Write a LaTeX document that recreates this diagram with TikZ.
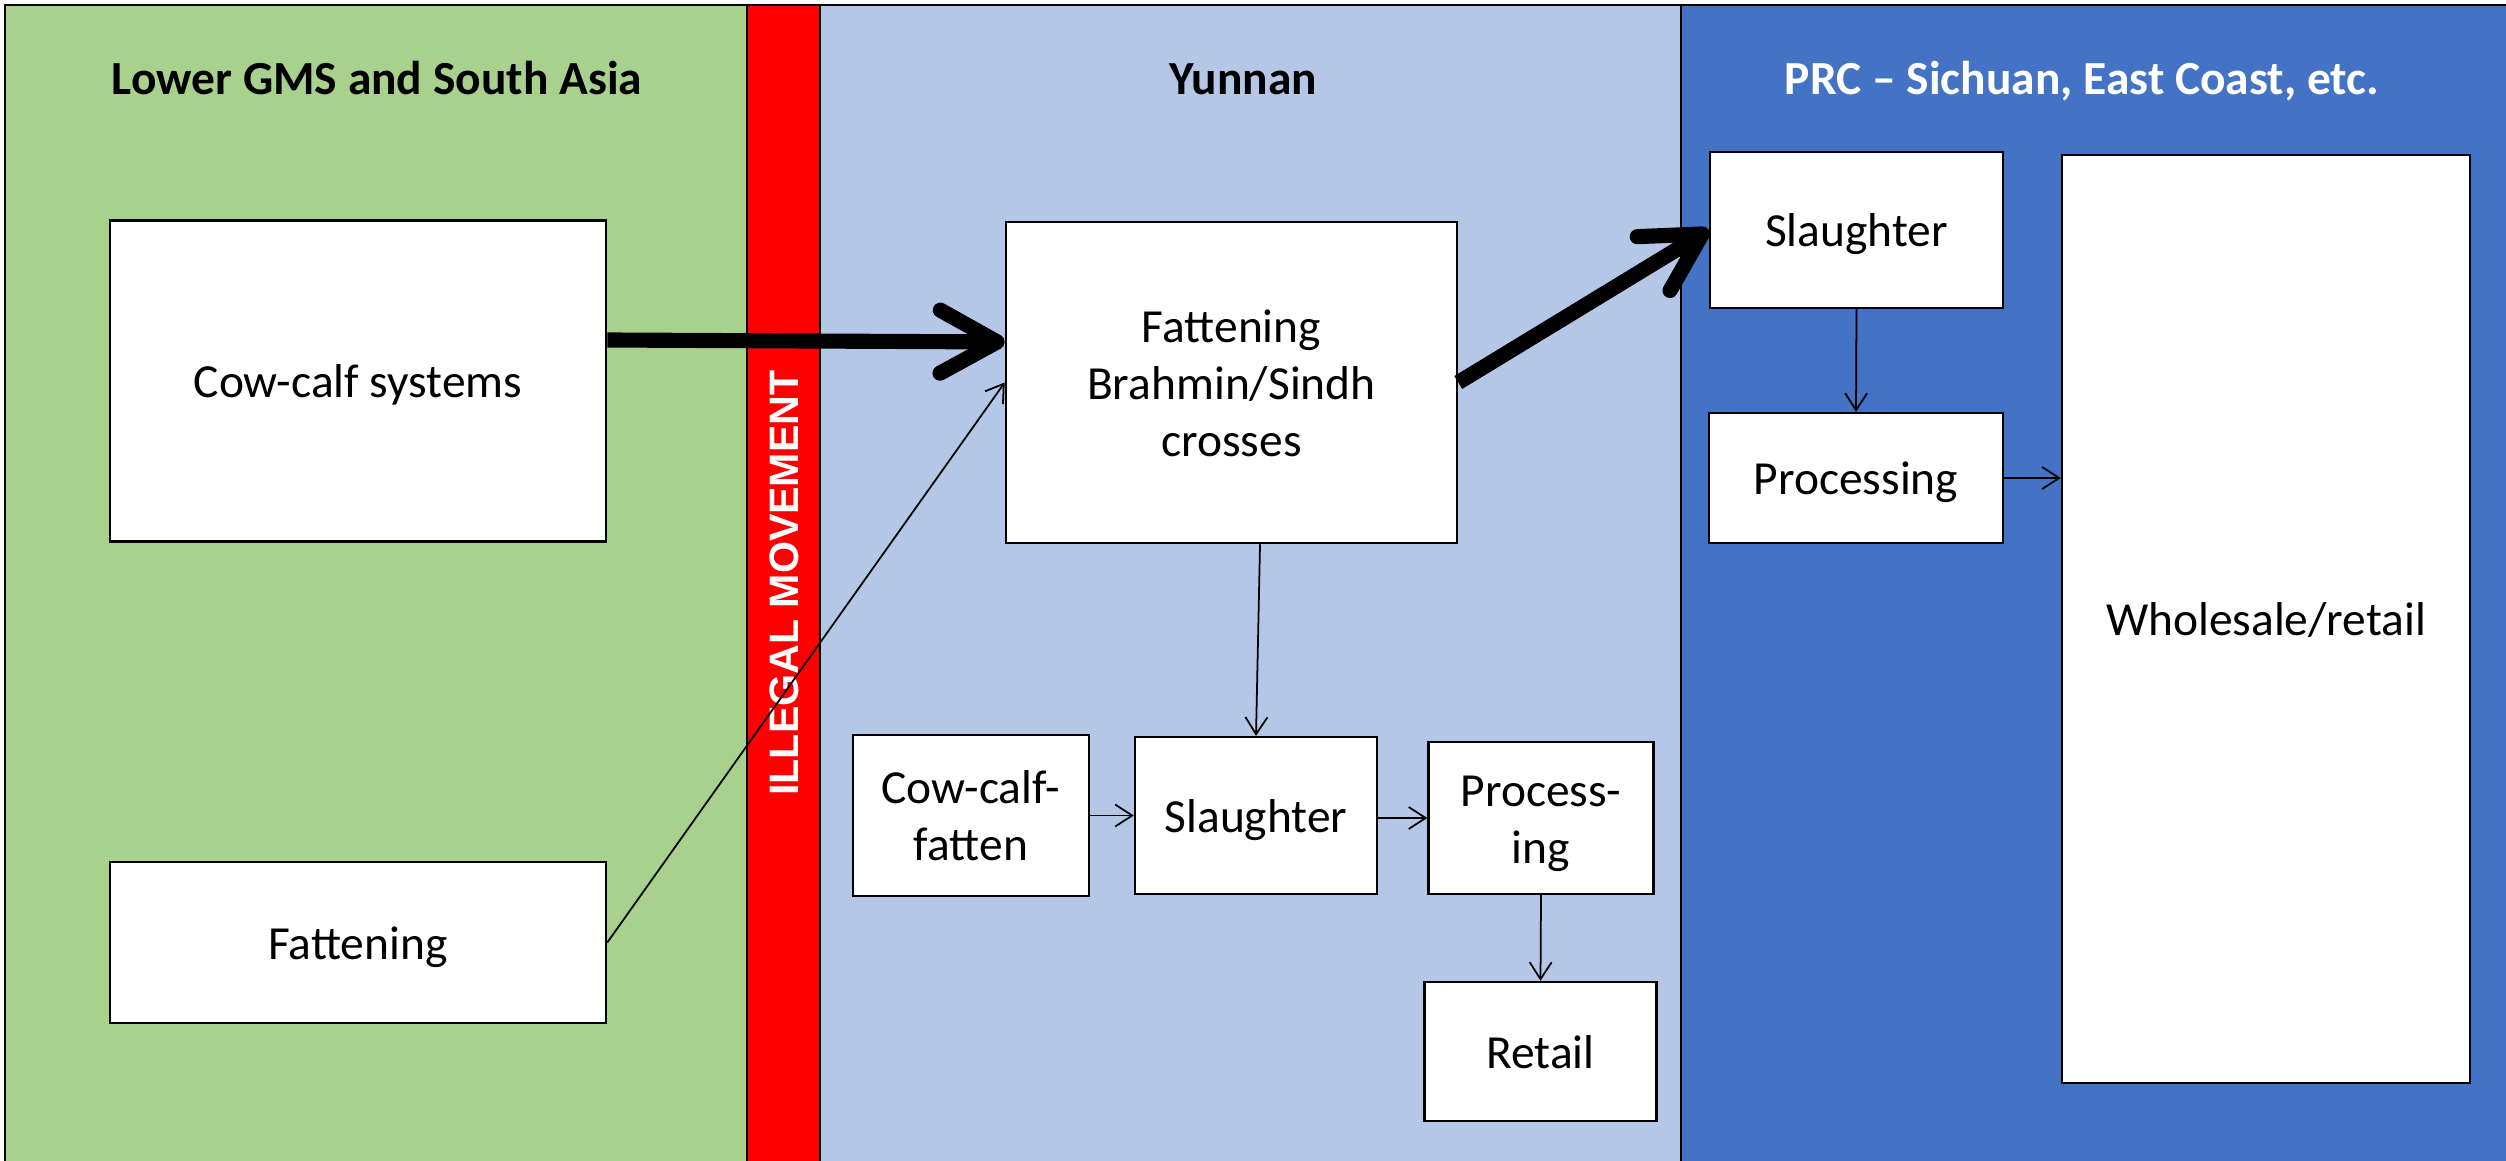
\documentclass[tikz,border=0pt]{standalone}
\usepackage{fontspec}
\setmainfont{Carlito}
\newfontfamily\arialfont{Liberation Sans}
\usetikzlibrary{arrows.meta}
\definecolor{pgreen}{HTML}{A9D18E}
\definecolor{plblue}{HTML}{B4C7E7}
\definecolor{pdblue}{HTML}{4472C4}
\definecolor{pred}{HTML}{FF0000}
\newcommand{\bxline}[1]{\raisebox{0pt}[9.4pt][0pt]{#1}}
\begin{document}
\begin{tikzpicture}[x=0.01cm,y=-0.01cm,
  box/.style={draw=black, line width=0.65pt, fill=white, inner sep=0pt, align=center,
    font=\fontsize{13.5}{16.2}\selectfont},
  heading/.style={anchor=base, font=\fontsize{13.5}{16}\selectfont\bfseries},
  thinarrow/.style={line width=0.5pt, -{Straight Barb[length=1.7mm,width=2.2mm]}},
  thickarrow/.style={line width=4.3pt, -{Straight Barb[length=5.7mm,width=6.3mm,round]}},
  sep/.style={draw=black, line width=0.5pt},
]
\useasboundingbox (0,0) rectangle (2506,1160);
\begin{scope}
\clip (0,0) rectangle (2506,1160);
\fill[pgreen] (5,5) rectangle (747,1200);
\fill[pred] (747,5) rectangle (820,1200);
\fill[plblue] (820,5) rectangle (1681,1200);
\fill[pdblue] (1681,5) rectangle (2600,1200);
\draw[sep] (747,5) -- (747,1200);
\draw[sep] (820,5) -- (820,1200);
\draw[sep, line width=0.6pt] (1681,5) -- (1681,1200);
\draw[line width=0.8pt] (5,1200) -- (5,5) -- (2600,5);
\end{scope}

\node[heading] (h1) at (377,94) {Lower GMS and South Asia};
\node[heading] (h2) at (1243,94) {Yunnan};
\node[heading, text=white] (h3) at (2082,94) {PRC – Sichuan, East Coast, etc.};

\node[rotate=90, text=white, font=\arialfont\bfseries\fontsize{11.7}{13}\selectfont] (illegal) at (784.5,583) {ILLEGAL MOVEMENT};

\node[box, minimum width=4.96cm, minimum height=3.21cm] (cowcalf) at (358,381) {\bxline{Cow-calf systems}};
\node[box, minimum width=4.96cm, minimum height=1.61cm] (fatg) at (358,942.5) {\bxline{Fattening}};
\node[box, minimum width=4.51cm, minimum height=3.21cm] (fatY) at (1231.5,382.5) {\bxline{Fattening}\\\bxline{Brahmin/Sindh}\\\bxline{crosses}};
\node[box, minimum width=2.36cm, minimum height=1.61cm] (ccf) at (971,815.5) {\bxline{Cow-calf-}\\\bxline{fatten}};
\node[box, minimum width=2.42cm, minimum height=1.57cm] (slY) at (1256,815.5) {\bxline{Slaughter}};
\node[box, minimum width=2.25cm, minimum height=1.52cm] (procY) at (1541,818) {\bxline{Process-}\\\bxline{ing}};
\node[box, minimum width=2.32cm, minimum height=1.39cm] (retail) at (1540.5,1051.5) {\bxline{Retail}};
\node[box, minimum width=2.93cm, minimum height=1.56cm] (slP) at (1856.5,230) {\bxline{Slaughter}};
\node[box, minimum width=2.94cm, minimum height=1.30cm] (procP) at (1856,478) {\bxline{Processing}};
\node[box, minimum width=4.08cm, minimum height=9.28cm] (whole) at (2266,619) {\bxline{Wholesale/retail}};

\draw[thickarrow] ([yshift=0.41cm]cowcalf.east) -- ([yshift=0.405cm]fatY.west);
\draw[thickarrow] (fatY.east) -- (slP.west);
\draw[thinarrow] (fatg.east) -- (fatY.west);
\draw[thinarrow] ([xshift=0.285cm]fatY.south) -- (slY.north);
\draw[thinarrow] (ccf.east) -- (slY.west);
\draw[thinarrow] (slY.east |- procY.west) -- (procY.west);
\draw[thinarrow] (procY.south) -- (retail.north);
\draw[thinarrow] (slP.south) -- (procP.north);
\draw[thinarrow] (procP.east) -- (whole.west |- procP.east);
\end{tikzpicture}
\end{document}
